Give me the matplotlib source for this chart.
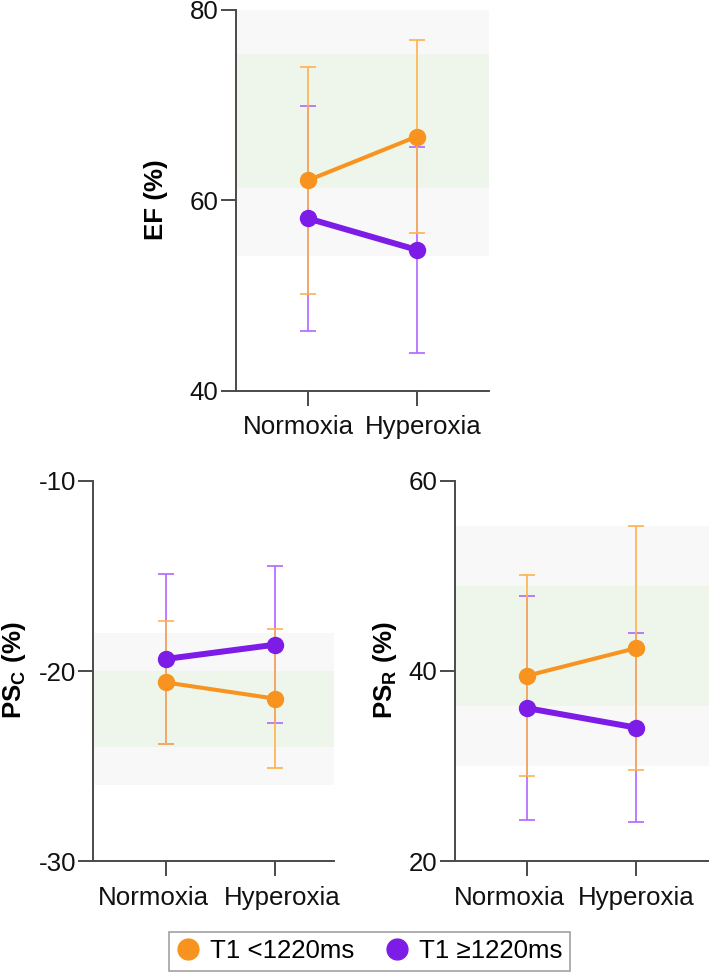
import matplotlib
matplotlib.use("Agg")
import matplotlib.pyplot as plt
from matplotlib.lines import Line2D
from matplotlib.transforms import ScaledTranslation

plt.rcParams['font.family'] = ['Liberation Sans', 'DejaVu Sans']
plt.rcParams['axes.unicode_minus'] = False
plt.rcParams['mathtext.fontset'] = 'custom'
plt.rcParams['mathtext.rm'] = 'Liberation Sans'
plt.rcParams['mathtext.bf'] = 'Liberation Sans:bold'

conditions = ["Normoxia", "Hyperoxia"]
groups = ["T1 <1220ms", "T1 \u22651220ms"]

# EF (%)
ef_low_mean = [62.1, 66.7]
ef_low_sd = [11.9, 10.1]
ef_high_mean = [58.1, 54.8]
ef_high_sd = [11.8, 10.8]
ef_ticks = [40, 60, 80]
ef_normal = (61.3, 75.4)
ef_extended = (54.1, 80.0)

# PSc (%)
psc_low_mean = [-20.6, -21.45]
psc_low_sd = [3.25, 3.67]
psc_high_mean = [-19.37, -18.62]
psc_high_sd = [4.47, 4.12]
psc_ticks = [-30, -20, -10]
psc_normal = (-24.0, -20.0)
psc_extended = (-26.0, -18.0)

# PSr (%)
psr_low_mean = [39.5, 42.4]
psr_low_sd = [10.55, 12.8]
psr_high_mean = [36.1, 34.05]
psr_high_sd = [11.8, 9.9]
psr_ticks = [20, 40, 60]
psr_normal = (36.3, 48.9)
psr_extended = (30.0, 55.2)

c_low = '#F7931E'
c_high = '#7D1CE6'
e_low = '#FFB14E'
e_high = '#B066FF'
band_gray = '#F8F8F8'
band_green = '#EEF5EA'
spine_c = '#4a4a4a'
FS = 18.6

fig = plt.figure(figsize=(7.09, 9.76), dpi=100)

ax_ef = fig.add_axes([0.3324, 0.5997, 0.3573, 0.3901])
ax_psc = fig.add_axes([0.1316, 0.1175, 0.3399, 0.3900])
ax_psr = fig.add_axes([0.6417, 0.1175, 0.3576, 0.3900])

x = [0, 1]

def draw(ax, lm, ls, hm, hs, ticks, normal, extended, xlim, shifts):
    ax.axhspan(extended[0], extended[1], color=band_gray, lw=0, zorder=0)
    ax.axhspan(normal[0], normal[1], color=band_green, lw=0, zorder=0.5)
    ax.errorbar(x, hm, yerr=hs, fmt='none', ecolor=e_high, elinewidth=1.2,
                capsize=6, capthick=1.2, zorder=2)
    ax.errorbar(x, lm, yerr=ls, fmt='none', ecolor=e_low, elinewidth=1.2,
                capsize=6, capthick=1.2, zorder=3)
    ax.plot(x, lm, color=c_low, lw=2.9, marker='o', ms=11.5, zorder=4)
    ax.plot(x, hm, color=c_high, lw=4.3, marker='o', ms=11.5, zorder=5)
    ax.set_xlim(*xlim)
    ax.set_ylim(ticks[0], ticks[-1])
    ax.set_yticks(ticks)
    ax.set_yticklabels([str(t) for t in ticks])
    ax.set_xticks(x)
    ax.set_xticklabels(conditions)
    for s in ['top', 'right']:
        ax.spines[s].set_visible(False)
    for s in ['left', 'bottom']:
        ax.spines[s].set_color(spine_c)
        ax.spines[s].set_linewidth(1.4)
    ax.tick_params(axis='both', length=10.5, width=1.4, color=spine_c,
                   labelsize=FS, labelcolor='#111111')
    ax.tick_params(axis='y', pad=2)
    ax.tick_params(axis='x', pad=7)
    for lab, dx in zip(ax.get_xticklabels(), shifts):
        lab.set_transform(lab.get_transform() +
                          ScaledTranslation(dx / 100.0, 0, fig.dpi_scale_trans))
    ax.set_facecolor('none')

draw(ax_ef, ef_low_mean, ef_low_sd, ef_high_mean, ef_high_sd, ef_ticks,
     ef_normal, ef_extended, (-0.665, 1.665), (-10, 7))
draw(ax_psc, psc_low_mean, psc_low_sd, psc_high_mean, psc_high_sd, psc_ticks,
     psc_normal, psc_extended, (-0.664, 1.547), (-12, 7.5))
draw(ax_psr, psr_low_mean, psr_low_sd, psr_high_mean, psr_high_sd, psr_ticks,
     psr_normal, psr_extended, (-0.661, 1.665), (-17.5, 0))

fig.text(156/709, 1 - 200/976, 'EF (%)', rotation=90, ha='center', va='center',
         fontsize=FS, fontweight='bold')
fig.text(14/709, 1 - 670/976, r'$\mathbf{PS_{C}\ (\%)}$', rotation=90,
         ha='center', va='center', fontsize=FS)
fig.text(385/709, 1 - 670/976, r'$\mathbf{PS_{R}\ (\%)}$', rotation=90,
         ha='center', va='center', fontsize=FS)

handles = [Line2D([], [], ls='none', marker='o', ms=15, color=c_low),
           Line2D([], [], ls='none', marker='o', ms=15, color=c_high)]
leg = fig.legend(handles, groups, loc='center', ncol=2,
                 bbox_to_anchor=(369.5/709, 1 - 951.5/976), fontsize=FS,
                 frameon=True, fancybox=False, handlelength=0.9,
                 handletextpad=0.4, columnspacing=1.2, borderpad=0.3,
                 borderaxespad=0)
leg.get_frame().set_edgecolor('#8a8a8a')
leg.get_frame().set_linewidth(1.2)

fig.savefig('out.png', dpi=100)
